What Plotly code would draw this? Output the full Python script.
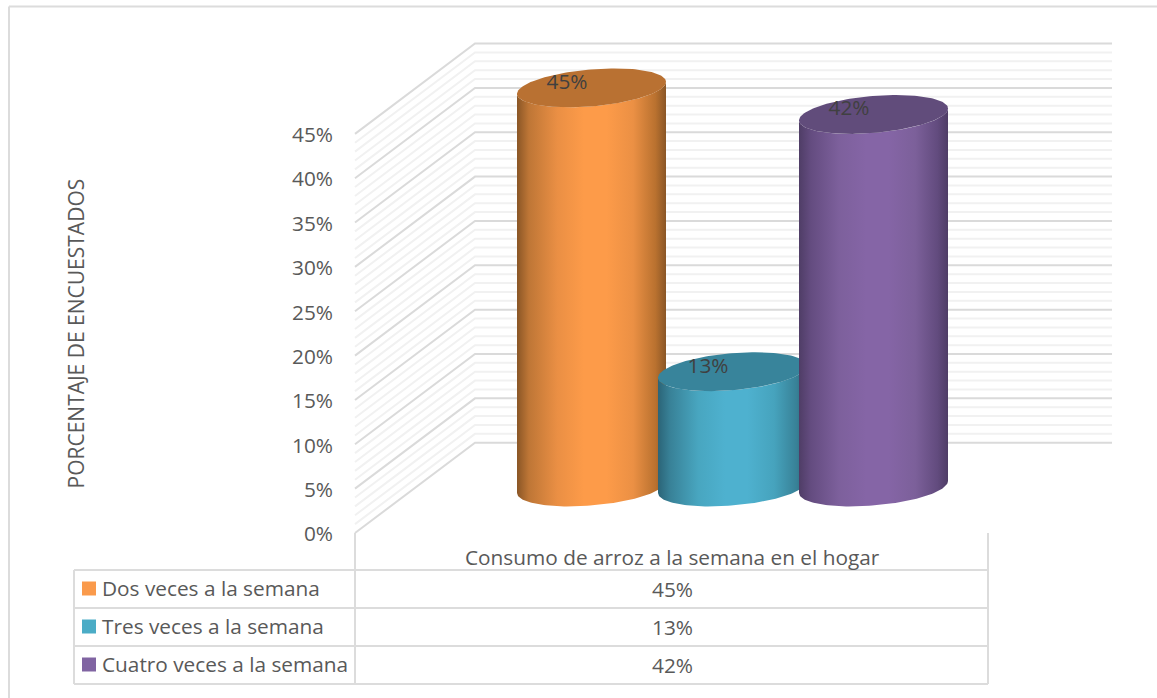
import numpy as np
import plotly.graph_objects as go

# ---------- data ----------
categories = ["Dos veces a la semana", "Tres veces a la semana", "Cuatro veces a la semana"]
values = [45, 13, 42]
axis_title = "PORCENTAJE DE ENCUESTADOS"
table_header = "Consumo de arroz a la semana en el hogar"
tick_values = [0, 5, 10, 15, 20, 25, 30, 35, 40, 45]
minor_values = [v for v in range(0, 46) if v % 5 != 0]
swatch_colors = ["#FA9A4B", "#4BACC6", "#8064A2"]
cap_colors = ["#B97132", "#38849B", "#614C7B"]
body_gradients = [
    ["#8A5626", "#BE7636", "#EA8F44", "#FD9B49", "#FD9B49", "#EB9044", "#B9712F", "#8A5626"],
    ["#2B6477", "#388197", "#48A6C0", "#4EB1CF", "#4EB1CF", "#46A3BD", "#388197", "#2B6477"],
    ["#4F3D66", "#644C80", "#7D609C", "#8565A6", "#8565A6", "#7C609A", "#624B7E", "#4F3D66"],
]
gradient_stops = [0, 0.08, 0.27, 0.45, 0.6, 0.78, 0.93, 1]

# ---------- canvas <-> axis scales ----------
W, H = 1157, 698
PX_PER_PCT = 8.87
Y0_PX = 533.0            # 0% on the front edge of the side wall
PX_PER_BAR = 141.0
BAR0_PX = 591.5          # centre of the first cylinder
BAR_W = 149.0 / PX_PER_BAR
BASE_LIFT = (Y0_PX - 487.0) / PX_PER_PCT   # cylinders stand deeper on the floor
WALL_LIFT = (Y0_PX - 442.7) / PX_PER_PCT   # back wall offset
FONT = "Open Sans"
FS = 20.8
TXT = "#595959"


def xu(px):
    return (px - BAR0_PX) / PX_PER_BAR


X_FRONT, X_BACK, X_RIGHT = xu(355), xu(475), xu(1112)
x_range = [xu(0), xu(W)]
y_range = [(Y0_PX - H) / PX_PER_PCT, Y0_PX / PX_PER_PCT]

fig = go.Figure()


def grid(vals, color, width):
    xs, ys = [], []
    for v in vals:
        xs += [X_FRONT, X_BACK, X_RIGHT, None]
        ys += [v, v + WALL_LIFT, v + WALL_LIFT, None]
    fig.add_trace(go.Scatter(x=xs, y=ys, mode="lines", hoverinfo="skip",
                             line=dict(color=color, width=width), showlegend=False))


grid(minor_values, "#F1F1F1", 2)
grid(tick_values, "#DADADA", 2)

# ---------- cylinders ----------
a = BAR_W / 2
b = 18.5 / PX_PER_PCT
tilt = 12.0 / PX_PER_PCT / BAR_W   # rise of the ellipse per unit of x
t_front = np.linspace(np.pi, 0, 80)   # left -> right along the nearer rim
t_all = np.linspace(0, 2 * np.pi, 160)


def rim(cx, cy, t):
    dx = a * np.cos(t)
    return cx + dx, cy - b * np.sin(t) + tilt * dx


for i, (v, grad, cap) in enumerate(zip(values, body_gradients, cap_colors)):
    base = BASE_LIFT
    top = v + BASE_LIFT
    bx, by = rim(i, base, t_front)
    tx, ty = rim(i, top, t_front[::-1])
    fig.add_trace(go.Scatter(
        x=np.r_[bx, tx], y=np.r_[by, ty], mode="lines", fill="toself",
        line=dict(width=0, color="rgba(0,0,0,0)"), hoverinfo="skip", showlegend=False,
        fillgradient=dict(type="horizontal",
                          colorscale=[[s, c] for s, c in zip(gradient_stops, grad)]),
    ))
    ex, ey = rim(i, top, t_all)
    fig.add_trace(go.Scatter(x=ex, y=ey, mode="lines", fill="toself", fillcolor=cap,
                             line=dict(width=0, color=cap), hoverinfo="skip", showlegend=False))

# ---------- data labels ----------
fig.add_trace(go.Scatter(
    x=[i - 24.5 / PX_PER_BAR for i in range(len(values))],
    y=[v + BASE_LIFT + 0.48 for v in values],
    text=[f"{v}%" for v in values], mode="text", textposition="middle center",
    textfont=dict(family=FONT, size=FS, color="#404040"),
    hoverinfo="skip", showlegend=False,
))

# ---------- chart furniture (paper coordinates) ----------
px = lambda x: x / W
py = lambda y: 1 - y / H
LINE = dict(color="#DCDCDC", width=2)
shapes = []


def seg(x0, y0, x1, y1, line=LINE):
    shapes.append(dict(type="line", xref="paper", yref="paper", x0=px(x0), y0=py(y0),
                       x1=px(x1), y1=py(y1), line=line, layer="below"))


T_L, T_M, T_R = 74, 355, 988
rows = [570, 608, 646, 684]
seg(9, 6.5, W, 6.5)
seg(9, 6.5, 9, H)
for r in rows:
    seg(T_L, r, T_R, r)
seg(T_L, rows[0], T_L, rows[-1])
seg(T_M, 533, T_M, rows[-1])
seg(T_R, 533, T_R, rows[-1])

annotations = [
    dict(text=axis_title, x=px(75), y=py(333.5), textangle=-90, xanchor="center",
         font=dict(family=FONT, size=21, color=TXT)),
    dict(text=table_header, x=px(672), y=py(557), xanchor="center",
         font=dict(family=FONT, size=FS, color=TXT)),
]
for k, (name, v, col) in enumerate(zip(categories, values, swatch_colors)):
    yc = (rows[k] + rows[k + 1]) / 2
    shapes.append(dict(type="rect", xref="paper", yref="paper", x0=px(82), x1=px(96),
                       y0=py(yc - 7.5), y1=py(yc + 6.5), fillcolor=col, line=dict(width=0)))
    annotations.append(dict(text=name, x=px(100), y=py(yc - 1), xanchor="left",
                            font=dict(family=FONT, size=FS, color=TXT)))
    annotations.append(dict(text=f"{v}%", x=px(672), y=py(yc - 0.5), xanchor="center",
                            font=dict(family=FONT, size=FS, color=TXT)))
for an in annotations:
    an.update(xref="paper", yref="paper", showarrow=False, yanchor="middle")

fig.update_layout(
    width=W, height=H, autosize=False, margin=dict(l=0, r=0, t=0, b=0),
    paper_bgcolor="white", plot_bgcolor="white", showlegend=False,
    shapes=shapes, annotations=annotations,
    xaxis=dict(range=x_range, visible=False, fixedrange=True),
    yaxis=dict(range=y_range, tickvals=tick_values, ticktext=[f"{v}%" for v in tick_values],
               showgrid=False, zeroline=False, showline=False, ticks="",
               anchor="free", position=333 / W, side="left", fixedrange=True,
               ticklabelshift=1,
               tickfont=dict(family=FONT, size=FS, color=TXT)),
)
fig.write_html("out.html", config={"displayModeBar": False},
               post_script="document.body.style.margin='0';document.body.style.overflow='hidden';")
